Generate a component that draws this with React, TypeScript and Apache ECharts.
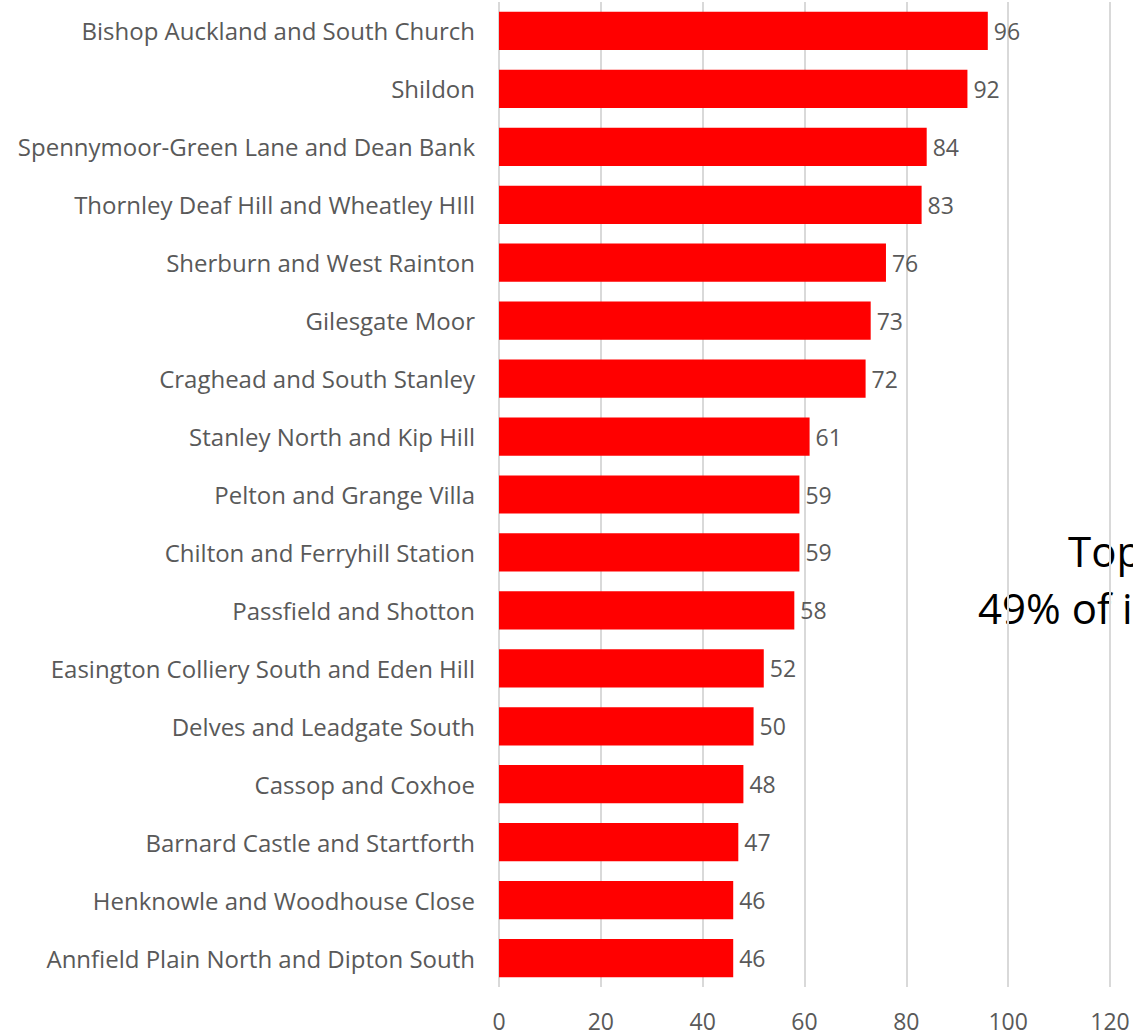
import React, { useEffect, useRef } from "react";
import * as echarts from "echarts";

const categories = [
  "Bishop Auckland and South Church",
  "Shildon",
  "Spennymoor-Green Lane and Dean Bank",
  "Thornley Deaf Hill and Wheatley HIll",
  "Sherburn and West Rainton",
  "Gilesgate Moor",
  "Craghead and South Stanley",
  "Stanley North and Kip Hill",
  "Pelton and Grange Villa",
  "Chilton and Ferryhill Station",
  "Passfield and Shotton",
  "Easington Colliery South and Eden Hill",
  "Delves and Leadgate South",
  "Cassop and Coxhoe",
  "Barnard Castle and Startforth",
  "Henknowle and Woodhouse Close",
  "Annfield Plain North and Dipton South",
];
const values = [96, 92, 84, 83, 76, 73, 72, 61, 59, 59, 58, 52, 50, 48, 47, 46, 46];
const annotationLines = ["Top 17 wards account for", "49% of incidents"];

export default function App() {
  const ref = useRef<HTMLDivElement>(null);
  useEffect(() => {
    document.body.style.margin = "0";
    const chart = echarts.init(ref.current!, null, { renderer: "svg" });
    const font = "'Open Sans', 'Noto Sans', sans-serif";
    chart.setOption({
      animation: false,
      backgroundColor: "#ffffff",
      grid: { left: 499, right: 23, top: 2, bottom: 48, containLabel: false },
      xAxis: {
        type: "value",
        min: 0,
        max: 120,
        interval: 20,
        axisLine: { show: false },
        axisTick: { show: false },
        splitLine: { show: true, lineStyle: { color: "#d9d9d9", width: 2 } },
        axisLabel: { color: "#595959", fontSize: 23, fontFamily: font, margin: 22 },
      },
      yAxis: {
        type: "category",
        data: categories,
        inverse: true,
        axisLine: { show: false },
        axisTick: { show: false },
        axisLabel: { color: "#595959", fontSize: 24, fontFamily: font, margin: 24 },
      },
      series: [
        {
          type: "bar",
          data: values,
          barCategoryGap: "34%",
          itemStyle: { color: "#ff0000" },
          label: {
            show: true,
            position: "right",
            distance: 6,
            color: "#595959",
            fontSize: 23,
            fontFamily: font,
          },
        },
      ],
      graphic: [
        {
          type: "text",
          left: 1068,
          top: 529,
          style: { text: annotationLines[0], fontSize: 42, fontFamily: font, fill: "#000000" },
        },
        {
          type: "text",
          left: 978,
          top: 586,
          style: { text: annotationLines[1], fontSize: 42, fontFamily: font, fill: "#000000" },
        },
      ],
    });
    return () => chart.dispose();
  }, []);
  return <div ref={ref} style={{ width: 1133, height: 1035 }} />;
}
